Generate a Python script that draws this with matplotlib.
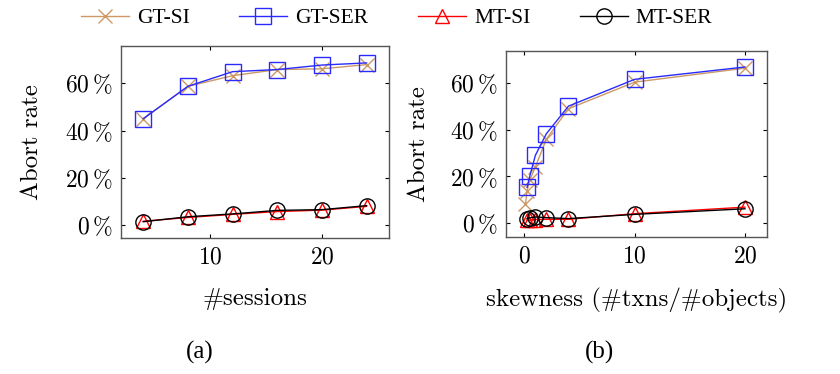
import matplotlib
matplotlib.use("Agg")
import matplotlib.pyplot as plt

plt.rcParams['font.family'] = 'serif'
plt.rcParams['font.serif'] = ['cmr10']
plt.rcParams['mathtext.fontset'] = 'cm'
plt.rcParams['axes.formatter.use_mathtext'] = True

# (a) abort rate vs number of sessions
sessions = [4, 8, 12, 16, 20, 24]
a_gt_si = [45.0, 58.7, 63.2, 65.8, 66.1, 67.9]
a_gt_ser = [45.0, 58.7, 64.9, 65.8, 67.7, 68.6]
a_mt_si = [1.6, 3.2, 4.5, 5.7, 6.3, 7.9]
a_mt_ser = [1.4, 3.5, 4.7, 6.2, 6.5, 8.2]

# (b) abort rate vs skewness
skew_gt_si = [0.1, 0.25, 0.5, 1, 2, 4, 10, 20]
b_gt_si = [8.0, 13.8, 18.5, 24.0, 36.0, 49.0, 60.4, 66.4]
skew = [0.25, 0.5, 1, 2, 4, 10, 20]
b_gt_ser = [15.3, 20.2, 29.0, 38.3, 50.1, 61.6, 66.9]
b_mt_si = [1.2, 1.3, 1.5, 1.6, 1.6, 4.0, 6.8]
b_mt_ser = [1.9, 2.2, 2.6, 2.3, 1.9, 3.7, 6.1]

yticks = [0, 20, 40, 60]
ytick_labels = [r'$%d\,\%%$' % v for v in yticks]

c_si = '#cc9966'
c_ser = '#2a2aff'

fig = plt.figure(figsize=(8.4, 3.74), dpi=100)
ax1 = fig.add_axes([0.144, 0.3636, 0.319, 0.513])
ax2 = fig.add_axes([0.6024, 0.3663, 0.3107, 0.497])

def draw(ax, x1, gs, x2, gser, msi, mser, xm):
    ax.plot(x1, gs, color=c_si, marker='x', ms=10, mew=1.0, lw=1.0, label='GT-SI')
    ax.plot(x2, gser, color=c_ser, marker='s', ms=11.5, mfc='none', mew=1.0, lw=1.0, label='GT-SER')
    ax.plot(xm, msi, color='red', marker='^', ms=10.5, mfc='none', mew=1.0, lw=1.0, label='MT-SI')
    ax.plot(xm, mser, color='black', marker='o', ms=11, mfc='none', mew=1.0, lw=1.0, label='MT-SER')
    ax.set_yticks(yticks)
    ax.set_yticklabels(ytick_labels)
    ax.tick_params(direction='in', length=3, top=True, right=True, labelsize=17, pad=6)
    for s in ax.spines.values():
        s.set_color('#555555')
        s.set_linewidth(1.0)
    ax.set_ylabel('Abort rate', fontsize=18)
    ax.yaxis.set_label_coords(-0.29, 0.5)

draw(ax1, sessions, a_gt_si, sessions, a_gt_ser, a_mt_si, a_mt_ser, sessions)
ax1.set_xlim(2, 26)
ax1.set_ylim(-5.5, 75.7)
ax1.set_xticks([10, 20])
ax1.set_xlabel('#sessions', fontsize=18)
ax1.xaxis.set_label_coords(0.5, -0.26)

draw(ax2, skew_gt_si, b_gt_si, skew, b_gt_ser, b_mt_si, b_mt_ser, skew)
ax2.set_xlim(-1.66, 22.0)
ax2.set_ylim(-6.0, 73.7)
ax2.set_xticks([0, 10, 20])
ax2.set_xlabel('skewness (#txns/#objects)', fontsize=18)
ax2.xaxis.set_label_coords(0.5, -0.274)
ax2.yaxis.set_label_coords(-0.29, 0.5)

h, l = ax1.get_legend_handles_labels()
fig.legend(h, l, loc='center left', bbox_to_anchor=(81 / 840, 1 - 18 / 374), ncol=4, frameon=False,
           prop={'family': 'Liberation Serif', 'size': 15.5}, handlelength=2.23,
           handletextpad=0.37, columnspacing=2.3, borderpad=0, borderaxespad=0)

fig.text(200 / 840, 1 - 352 / 374, '(a)', ha='center', va='center', family='Liberation Serif', fontsize=18)
fig.text(600 / 840, 1 - 352 / 374, '(b)', ha='center', va='center', family='Liberation Serif', fontsize=18)

fig.savefig('out.png', dpi=100)
